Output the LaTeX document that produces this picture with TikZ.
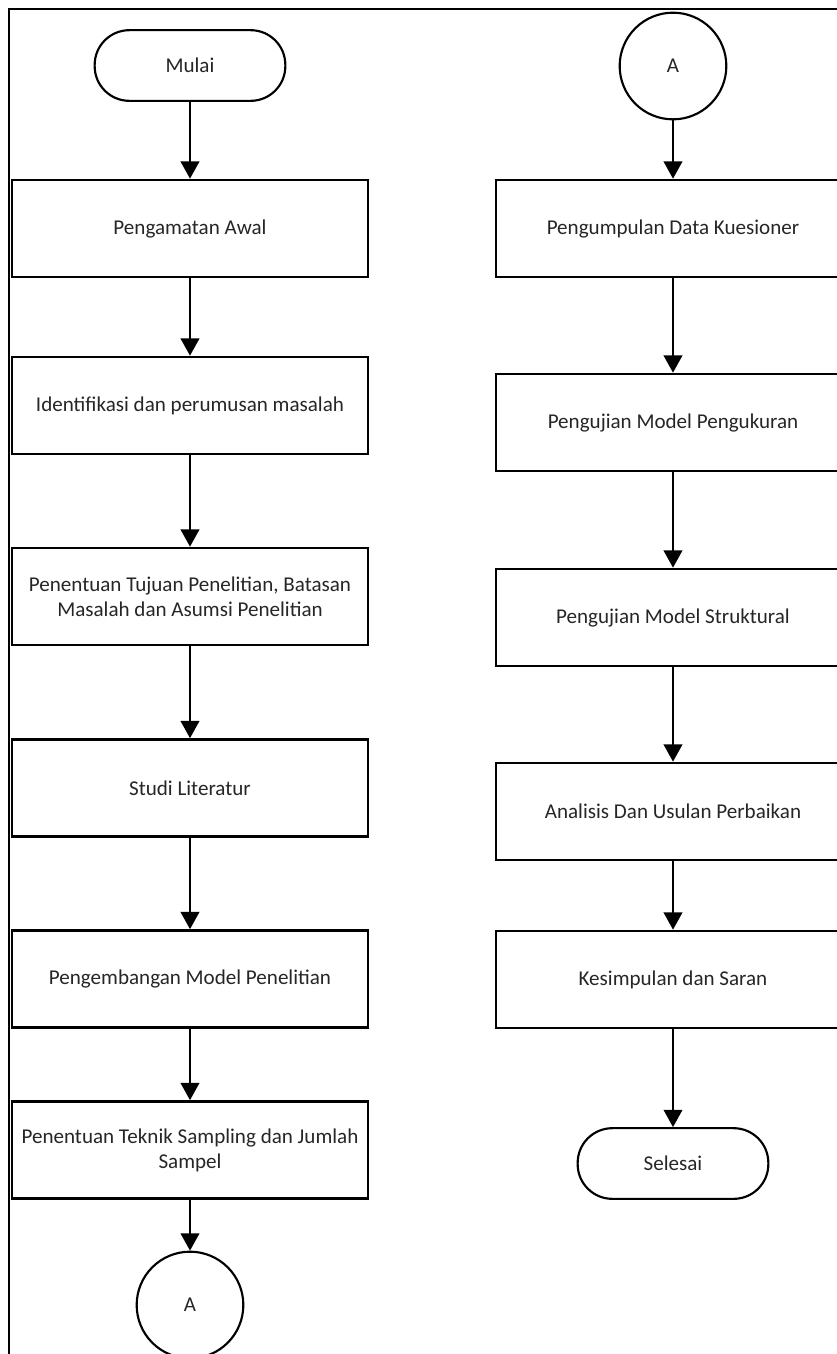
\documentclass[tikz,border=0pt]{standalone}
\usepackage{fontspec}
\setmainfont{Carlito}
\usetikzlibrary{arrows.meta}
\tikzset{
  boxL/.style={draw, line width=2pt, minimum width=267pt, minimum height=72.75pt, align=center, inner sep=2pt},
  boxR/.style={draw, line width=2pt, minimum width=265.5pt, minimum height=72.75pt, align=center, inner sep=2pt},
  term/.style={draw, line width=1.6pt, rounded corners=26pt, minimum width=143pt, minimum height=53pt},
  conn/.style={draw, circle, line width=1.6pt, minimum size=80pt, inner sep=0pt},
  flow/.style={line width=1.5pt, -{Triangle[width=14pt,length=13pt]}},
  txt/.style={font=\fontsize{15.8pt}{18.75pt}\selectfont, text=black!85}
}
\begin{document}
\begin{tikzpicture}[x=0.75pt,y=-0.75pt]
\clip (0,0) rectangle (837,1354);
\useasboundingbox (0,0) rectangle (837,1354);
\draw[line width=1.5pt] (8.5,9) rectangle (900,1420);
% left column
\node[term,txt] (mulai) at (190,65.5) {Mulai};
\node[boxL,txt] (b1) at (190,228.5) {Pengamatan Awal};
\node[boxL,txt] (b2) at (190,405.5) {Identifikasi dan perumusan masalah};
\node[boxL,txt] (b3) at (190,596.5) {Penentuan Tujuan Penelitian, Batasan\\Masalah dan Asumsi Penelitian};
\node[boxL,txt] (b4) at (190,788) {Studi Literatur};
\node[boxL,txt] (b5) at (190,979) {Pengembangan Model Penelitian};
\node[boxL,txt] (b6) at (190,1150) {Penentuan Teknik Sampling dan Jumlah\\Sampel};
\node[conn,txt] (a1) at (190,1305) {A};
% right column
\node[conn,txt] (a2) at (673,66) {A};
\node[boxR,txt] (c1) at (673,228.5) {Pengumpulan Data Kuesioner};
\node[boxR,txt] (c2) at (673,422.5) {Pengujian Model Pengukuran};
\node[boxR,txt] (c3) at (673,617.5) {Pengujian Model Struktural};
\node[boxR,txt] (c4) at (673,811.5) {Analisis Dan Usulan Perbaikan};
\node[boxR,txt] (c5) at (673,979.5) {Kesimpulan dan Saran};
\node[term,txt] (selesai) at (673,1163.5) {Selesai};
% connectors
\draw[flow] (mulai) -- (b1);
\draw[flow] (b1) -- (b2);
\draw[flow] (b2) -- (b3);
\draw[flow] (b3) -- (b4);
\draw[flow] (b4) -- (b5);
\draw[flow] (b5) -- (b6);
\draw[flow] (b6) -- (a1);
\draw[flow] (a2) -- (c1);
\draw[flow] (c1) -- (c2);
\draw[flow] (c2) -- (c3);
\draw[flow] (c3) -- (c4);
\draw[flow] (c4) -- (c5);
\draw[flow] (c5) -- (selesai);
\end{tikzpicture}
\end{document}
